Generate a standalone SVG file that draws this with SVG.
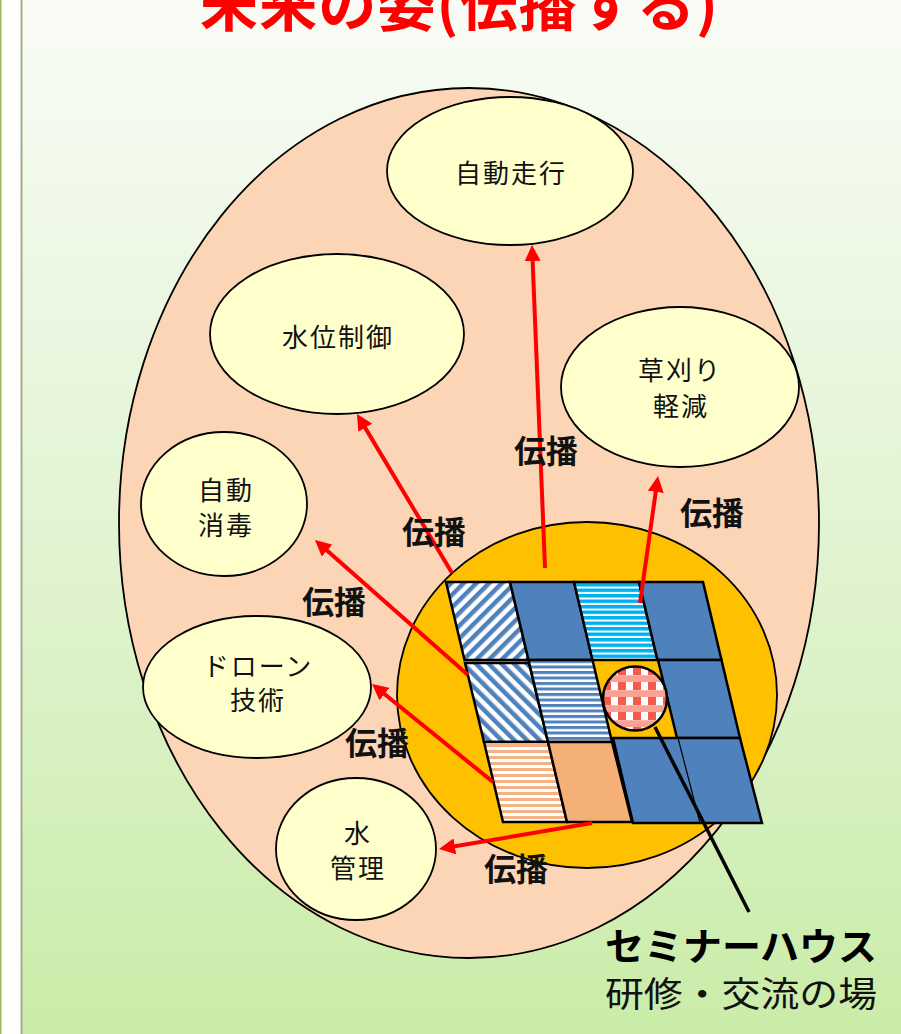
<svg xmlns="http://www.w3.org/2000/svg" width="901" height="1034" viewBox="0 0 901 1034">
<defs>
<linearGradient id="bg" x1="0" y1="0" x2="0" y2="1">
<stop offset="0" stop-color="#f9fcf6"/>
<stop offset="0.5" stop-color="#e2f4d4"/>
<stop offset="1" stop-color="#caeca8"/>
</linearGradient>
<pattern id="diagUp" width="9" height="9" patternUnits="userSpaceOnUse" patternTransform="rotate(45)">
<rect width="9" height="9" fill="#ffffff"/>
<rect width="4.5" height="9" fill="#4f81bd"/>
</pattern>
<pattern id="diagDown" width="9" height="9" patternUnits="userSpaceOnUse" patternTransform="rotate(-45)">
<rect width="9" height="9" fill="#ffffff"/>
<rect width="4.5" height="9" fill="#4f81bd"/>
</pattern>
<pattern id="hLightBlue" width="6" height="5.5" patternUnits="userSpaceOnUse">
<rect width="6" height="5.5" fill="#ffffff"/>
<rect width="6" height="3.5" fill="#00b0f0"/>
</pattern>
<pattern id="hBlue" width="6" height="5.5" patternUnits="userSpaceOnUse">
<rect width="6" height="5.5" fill="#ffffff"/>
<rect width="6" height="3" fill="#4f81bd"/>
</pattern>
<pattern id="hOrange" width="6" height="6" patternUnits="userSpaceOnUse">
<rect width="6" height="6" fill="#ffffff"/>
<rect width="6" height="3" fill="#f4b183"/>
</pattern>
<pattern id="check" width="15" height="15" patternUnits="userSpaceOnUse" x="603" y="667">
<rect width="15" height="15" fill="#fbb3aa"/>
<rect x="0" y="9" width="15" height="6" fill="#f9a195"/>
<rect x="0" y="0" width="8" height="8" fill="#f55a4a"/>
<rect x="8" y="0" width="7" height="8" fill="#ffffff"/>
</pattern>
<marker id="ah" markerUnits="userSpaceOnUse" markerWidth="16" markerHeight="16" viewBox="0 0 16 16" refX="6" refY="8" orient="auto">
<path d="M0,0 L16,8 L0,16 z" fill="#ff0000"/>
</marker>
<style>
.node{fill:#ffffcc;stroke:#000;stroke-width:1.8}
.nt{font-family:"Noto Sans CJK JP","Noto Sans",sans-serif;font-size:26px;letter-spacing:2px;fill:#111;text-anchor:middle}
.lbl{font-family:"Noto Sans CJK JP","Noto Sans",sans-serif;font-size:32px;font-weight:bold;fill:#111;text-anchor:middle}
.cell{stroke:#000;stroke-width:2.5;stroke-linejoin:miter}
.arr{stroke:#ff0000;stroke-width:4;fill:none;marker-end:url(#ah)}
</style>
</defs>

<rect x="0" y="0" width="901" height="1034" fill="url(#bg)"/>
<rect x="0" y="0" width="21" height="1034" fill="#ffffff"/>
<line x1="0.75" y1="0" x2="0.75" y2="1034" stroke="#9bbb59" stroke-width="1.5"/>
<line x1="21.5" y1="0" x2="21.5" y2="1034" stroke="#a4ad8a" stroke-width="2"/>

<text x="459" y="26" font-family="'Noto Sans CJK JP','Noto Sans',sans-serif" font-size="58" font-weight="bold" fill="#ff0000" text-anchor="middle" textLength="518" lengthAdjust="spacing">未来の姿(伝播する)</text>

<g id="outer">
<ellipse cx="469" cy="523" rx="350" ry="435" fill="#fbd5b5" stroke="#000" stroke-width="1.8"/>
</g>

<g id="n-jidousoukou">
<ellipse class="node" cx="510" cy="171" rx="123" ry="74"/>
<text class="nt" x="511" y="183">自動走行</text>
</g>
<g id="n-suiiseigyo">
<ellipse class="node" cx="337" cy="334" rx="127" ry="80"/>
<text class="nt" x="338" y="347">水位制御</text>
</g>
<g id="n-kusakari">
<ellipse class="node" cx="680" cy="387" rx="119" ry="80"/>
<text class="nt" x="680" y="379.5">草刈り</text>
<text class="nt" x="681" y="415.5">軽減</text>
</g>
<g id="n-shoudoku">
<ellipse class="node" cx="224" cy="504" rx="83" ry="72"/>
<text class="nt" x="226" y="499.5">自動</text>
<text class="nt" x="226" y="534.5">消毒</text>
</g>
<g id="n-drone">
<ellipse class="node" cx="257" cy="687" rx="114" ry="71"/>
<text class="nt" x="258" y="675.5">ドローン</text>
<text class="nt" x="258" y="709.5">技術</text>
</g>
<g id="n-mizukanri">
<ellipse class="node" cx="356" cy="849" rx="80" ry="71"/>
<text class="nt" x="358" y="842.5">水</text>
<text class="nt" x="358" y="877.5">管理</text>
</g>

<g id="seminar-house">
<ellipse cx="587" cy="695" rx="190" ry="173" fill="#ffc000" stroke="#000" stroke-width="1.8"/>
<polygon class="cell" fill="url(#diagUp)" points="446,582 510,582 528.5,660 464.5,660"/>
<polygon class="cell" fill="#4f81bd" points="510,582 574,582 592.5,660 528.5,660"/>
<polygon class="cell" fill="url(#hLightBlue)" points="574,582 639,582 657.5,660 592.5,660"/>
<polygon class="cell" fill="#4f81bd" points="639,582 703,582 721.5,660 657.5,660"/>
<polygon class="cell" fill="url(#diagDown)" points="465,663 529,663 548,742 484,742"/>
<polygon class="cell" fill="url(#hBlue)" points="528.5,660 592.5,660 612,742 548,742"/>
<polygon class="cell" fill="#4f81bd" points="658,660 721.5,660 740,738 677,738"/>
<polygon class="cell" fill="url(#hOrange)" points="484,742 548,742 567,822 503,822"/>
<polygon class="cell" fill="#f4b075" points="548,742 612,742 632,822 567,822"/>
<polygon class="cell" fill="#4f81bd" points="613,738 740,738 762,823 633,823"/>
<line x1="678" y1="738" x2="700" y2="823" stroke="#000" stroke-width="1.2"/>
<circle cx="635" cy="698.5" r="32" fill="url(#check)" stroke="#000" stroke-width="2.5"/>
<line x1="655" y1="727" x2="749" y2="912" stroke="#000" stroke-width="3.5"/>
</g>

<g id="connectors">
<line class="arr" x1="545" y1="568" x2="532.4" y2="255"/>
<line class="arr" x1="452" y1="573" x2="362.1" y2="422.6"/>
<line class="arr" x1="640" y1="603" x2="656.6" y2="485.9"/>
<line class="arr" x1="468" y1="675" x2="322.5" y2="546.6"/>
<line class="arr" x1="493" y1="782" x2="379.8" y2="690.3"/>
<line class="arr" x1="592" y1="823" x2="448.9" y2="847.3"/>
</g>

<g id="labels">
<text class="lbl" x="546" y="463">伝播</text>
<text class="lbl" x="434" y="544">伝播</text>
<text class="lbl" x="712" y="525">伝播</text>
<text class="lbl" x="334" y="614">伝播</text>
<text class="lbl" x="377" y="755">伝播</text>
<text class="lbl" x="516" y="881">伝播</text>
</g>

<g id="caption">
<text x="741" y="960" font-family="'Noto Sans CJK JP','Noto Sans',sans-serif" font-size="38" font-weight="bold" fill="#000" text-anchor="middle" textLength="272" lengthAdjust="spacingAndGlyphs">セミナーハウス</text>
<text x="741" y="1007" font-family="'Noto Sans CJK JP','Noto Sans',sans-serif" font-size="35" fill="#111" text-anchor="middle" textLength="272" lengthAdjust="spacingAndGlyphs">研修・交流の場</text>
</g>
</svg>
